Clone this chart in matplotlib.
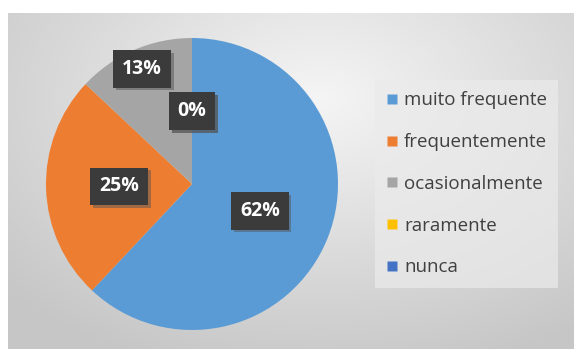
import numpy as np
import matplotlib
matplotlib.use('Agg')
import matplotlib.pyplot as plt
import matplotlib.patheffects as pe
from matplotlib.lines import Line2D

# Datos del gráfico
categorias = ['muito frequente', 'frequentemente', 'ocasionalmente', 'raramente', 'nunca']
valores = [62, 25, 13, 0, 0]
etiquetas = ['62%', '25%', '13%', '0%', '0%']
colores = ['#5B9BD5', '#ED7D31', '#A5A5A5', '#FFC000', '#4472C4']
dist_etiquetas = [0.5, 0.5, 0.86, 0.5, 0.5]

plt.rcParams['font.family'] = ['Open Sans', 'DejaVu Sans']

W, H = 574, 349
fig = plt.figure(figsize=(W / 100, H / 100), dpi=100, facecolor='white')

# Fondo con degradado radial
ax_bg = fig.add_axes([8 / W, 0, (W - 8) / W, (H - 13) / H])
ny, nx = 200, 340
yy, xx = np.mgrid[0:ny, 0:nx]
cx, cy = 0.55 * nx, 0.25 * ny
r = np.sqrt(((xx - cx) / nx) ** 2 + ((yy - cy) / ny * 0.9) ** 2)
r = np.clip(r / 0.75, 0, 1)
gris = 0.96 - 0.18 * r
img = np.dstack([gris, gris, gris])
ax_bg.imshow(img, aspect='auto', extent=[0, 1, 0, 1], interpolation='bilinear')
ax_bg.set_axis_off()

# Pastel
cx_p, cy_p, rad = 192, 184, 146
ax = fig.add_axes([(cx_p - rad) / W, (H - cy_p - rad) / H, 2 * rad / W, 2 * rad / H])
ax.patch.set_visible(False)
wedges, _ = ax.pie(valores, colors=colores, startangle=90, counterclock=False,
                   radius=1, wedgeprops=dict(linewidth=0))
ax.set_xlim(-1, 1)
ax.set_ylim(-1, 1)
ax.set_axis_off()

for w, et, d in zip(wedges, etiquetas, dist_etiquetas):
    ang = np.deg2rad((w.theta1 + w.theta2) / 2)
    t = ax.text(d * np.cos(ang), d * np.sin(ang), et, ha='center', va='center',
                color='white', fontsize=14, fontweight='bold',
                bbox=dict(boxstyle='square,pad=0.45', fc='#3b3b3b', ec='none'))
    t.get_bbox_patch().set_path_effects([
        pe.SimplePatchShadow(offset=(2, -2), shadow_rgbFace='#555555', alpha=0.5),
        pe.Normal()])

# Leyenda
handles = [Line2D([], [], marker='s', linestyle='none', markersize=6.5,
                  markerfacecolor=c, markeredgecolor='none') for c in colores]
leg = fig.legend(handles, categorias, loc='upper left',
                 bbox_to_anchor=(375 / W, 1 - 80 / H), frameon=True,
                 fontsize=13.5, labelspacing=1.27, handlelength=0.6,
                 handletextpad=0.35, borderpad=0.6, borderaxespad=0,
                 labelcolor='#404040')
leg.get_frame().set_facecolor('#ebebeb')
leg.get_frame().set_edgecolor('none')
leg.get_frame().set_alpha(0.7)
leg.get_frame().set_boxstyle('square', pad=0)

fig.savefig('out.png', dpi=100, facecolor='white')
